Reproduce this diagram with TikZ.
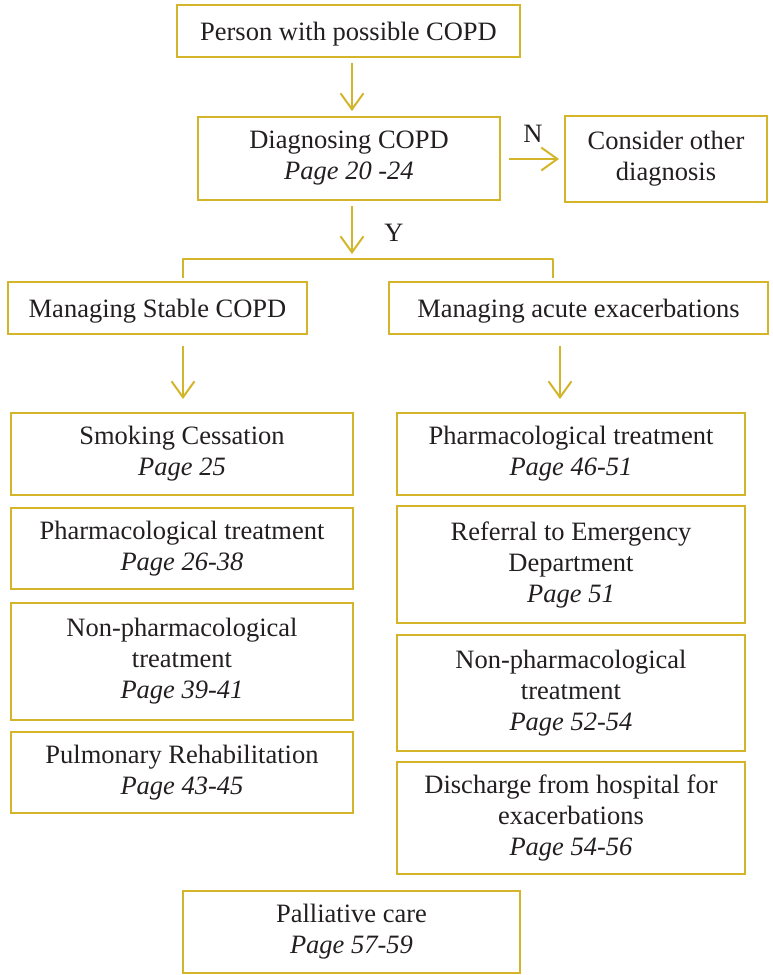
\documentclass[tikz,border=0pt]{standalone}
\usepackage{fontspec}
\setmainfont{Liberation Serif}
\usetikzlibrary{arrows.meta}
\definecolor{gold}{RGB}{212,181,42}
\definecolor{ink}{RGB}{35,31,32}
\tikzset{
  box/.style={draw=gold, line width=2pt, inner sep=0pt, align=center, text=ink,
    font=\fontsize{26.5}{31}\selectfont, execute at begin node={\rule{0pt}{24pt}}},
  arr/.style={draw=gold, line width=2pt, -{Straight Barb[length=16pt,width=23pt]}},
  lbl/.style={text=ink, font=\fontsize{26.5}{31}\selectfont, inner sep=0pt},
  brk/.style={draw=gold, line width=2pt, line join=round}
}
\begin{document}
\begin{tikzpicture}[x=1pt,y=-1pt]
\useasboundingbox (0,0) rectangle (772,975);
\node[box, minimum width=343pt, minimum height=52pt] (p) at (348.5,31) {Person with possible COPD};
\node[box, minimum width=302pt, minimum height=83pt] (d) at (349,158.5) {Diagnosing COPD\\\textit{Page 20 -24}};
\node[box, minimum width=202pt, minimum height=86pt] (c) at (666,159) {Consider other\\diagnosis};
\node[box, minimum width=299pt, minimum height=52pt] (s) at (157.5,308) {Managing Stable COPD};
\node[box, minimum width=379pt, minimum height=52pt] (a) at (578.5,308) {Managing acute exacerbations};
% left column
\node[box, minimum width=342pt, minimum height=82pt] (l1) at (182,454) {Smoking Cessation\\\textit{Page 25}};
\node[box, minimum width=342pt, minimum height=81pt] (l2) at (182,548.5) {Pharmacological treatment\\\textit{Page 26-38}};
\node[box, minimum width=342pt, minimum height=117pt] (l3) at (182,661.5) {Non-pharmacological\\treatment\\\textit{Page 39-41}};
\node[box, minimum width=342pt, minimum height=81pt] (l4) at (182,772.5) {Pulmonary Rehabilitation\\\textit{Page 43-45}};
% right column
\node[box, minimum width=348pt, minimum height=82pt] (r1) at (571,454) {Pharmacological treatment\\\textit{Page 46-51}};
\node[box, minimum width=348pt, minimum height=117pt] (r2) at (571,564.5) {Referral to Emergency\\Department\\\textit{Page 51}};
\node[box, minimum width=348pt, minimum height=116pt] (r3) at (571,693) {Non-pharmacological\\treatment\\\textit{Page 52-54}};
\node[box, minimum width=348pt, minimum height=112pt] (r4) at (571,818) {Discharge from hospital for\\exacerbations\\\textit{Page 54-56}};
% palliative
\node[box, minimum width=337pt, minimum height=82pt] (pc) at (351.5,932) {Palliative care\\\textit{Page 57-59}};
% connectors
\coordinate (mx) at (352,0);
\coordinate (lx) at (183,0);
\coordinate (rx) at (560,0);
\coordinate (bl) at (183,278);
\coordinate (bt) at (352,259);
\coordinate (br) at (553,278);
\draw[arr, shorten <=5pt, shorten >=5pt] (p.south -| mx) -- (d.north -| mx);
\draw[arr, shorten <=8pt, shorten >=5pt] (d.east |- c.west) -- (c.west);
\node[lbl] (n) at (533,134) {N};
\draw[arr, shorten <=5pt, shorten >=5pt] (d.south -| mx) -- (bt);
\node[lbl] (y) at (394,233) {Y};
\draw[brk] (bl) |- (bt) -| (br);
\draw[arr, shorten <=11pt, shorten >=13pt] (s.south -| lx) -- (l1.north -| lx);
\draw[arr, shorten <=11pt, shorten >=13pt] (a.south -| rx) -- (r1.north -| rx);
\end{tikzpicture}
\end{document}
